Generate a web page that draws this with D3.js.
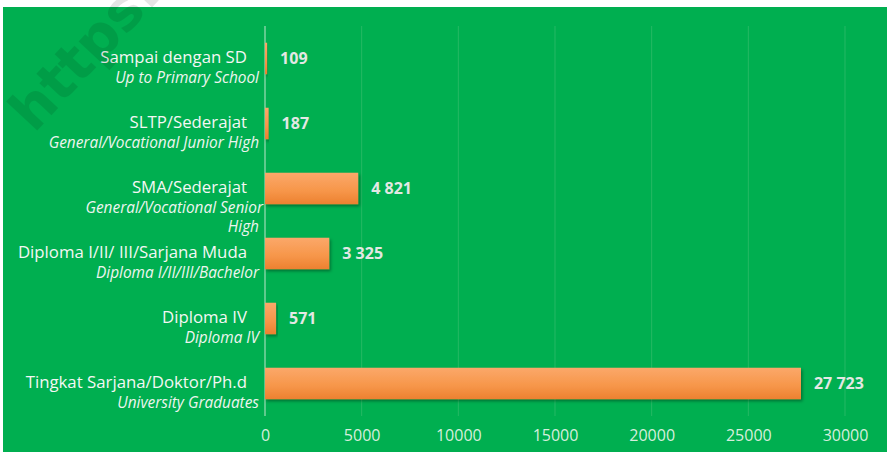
<!DOCTYPE html>
<meta charset="utf-8">
<head>
  <style>
    body { margin: 0; background: #fff; }
    svg { display: block; }
  </style>
</head>

<script src="https://d3js.org/d3.v7.min.js"></script>

<div id="chart"></div>
<script>

  // education level categories (Indonesian line + English italic line)
  var mainLabels = [
    "Sampai dengan SD",
    "SLTP/Sederajat",
    "SMA/Sederajat",
    "Diploma I/II/ III/Sarjana Muda",
    "Diploma IV",
    "Tingkat Sarjana/Doktor/Ph.d"
  ];
  var subLabels = [
    ["Up to Primary School"],
    ["General/Vocational Junior High"],
    ["General/Vocational Senior", "High"],
    ["Diploma I/II/III/Bachelor"],
    ["Diploma IV"],
    ["University Graduates"]
  ];
  var values = [109, 187, 4821, 3325, 571, 27723];
  var xTicks = [0, 5000, 10000, 15000, 20000, 25000, 30000];

  var width = 887, height = 452;
  var margin = {top: 26, right: 42, bottom: 36, left: 265};

  var rows = mainLabels.map(function(d, i) {
    return {name: d, sub: subLabels[i], value: values[i]};
  });

  var fmt = d3.formatLocale({decimal: ",", thousands: " ", grouping: [3], currency: ["", ""]}).format(",d");

  var svg = d3.select("#chart")
    .append("svg")
      .attr("width", width)
      .attr("height", height);

  var defs = svg.append("defs");
  var grad = defs.append("linearGradient")
      .attr("id", "barGrad")
      .attr("x1", 0).attr("y1", 0).attr("x2", 0).attr("y2", 1);
  grad.append("stop").attr("offset", "0%").attr("stop-color", "#fba86a");
  grad.append("stop").attr("offset", "55%").attr("stop-color", "#f7974b");
  grad.append("stop").attr("offset", "100%").attr("stop-color", "#ec8130");

  var shadow = defs.append("filter").attr("id", "shadow")
      .attr("x", "-5%").attr("y", "-20%").attr("width", "115%").attr("height", "160%");
  shadow.append("feDropShadow")
      .attr("dx", 1.5).attr("dy", 2).attr("stdDeviation", 1.5)
      .attr("flood-color", "#000").attr("flood-opacity", 0.35);

  // green panel
  svg.append("rect")
      .attr("x", 3).attr("y", 7)
      .attr("width", width - 3).attr("height", height - 7)
      .attr("fill", "#00af50");

  var x = d3.scaleLinear()
      .domain([0, 30000])
      .range([margin.left, width - margin.right]);

  var y = d3.scaleBand()
      .domain(mainLabels)
      .range([margin.top, height - margin.bottom])
      .paddingInner(0.515)
      .paddingOuter(0.2575);

  // gridlines
  svg.append("g")
    .selectAll("line")
    .data(xTicks)
    .join("line")
      .attr("x1", d => x(d)).attr("x2", d => x(d))
      .attr("y1", margin.top).attr("y2", height - margin.bottom)
      .attr("stroke", d => d === 0 ? "#7fd3a2" : "#25b864")
      .attr("stroke-width", d => d === 0 ? 1.5 : 1);

  // x axis labels
  var xAxis = d3.axisBottom(x).tickValues(xTicks).tickSize(0).tickPadding(0).tickFormat(d3.format("d"));
  var gx = svg.append("g")
      .attr("transform", "translate(0," + (height - margin.bottom + 19) + ")")
      .call(xAxis);
  gx.select(".domain").remove();
  gx.selectAll("text")
      .attr("fill", "#d6eedd")
      .attr("font-family", "Open Sans, sans-serif")
      .attr("font-size", 16)
      .attr("dy", "0.36em");

  // bars
  svg.append("g")
    .selectAll("rect")
    .data(rows)
    .join("rect")
      .attr("x", x(0))
      .attr("y", d => y(d.name))
      .attr("width", d => x(d.value) - x(0))
      .attr("height", y.bandwidth())
      .attr("fill", "url(#barGrad)")
      .attr("filter", "url(#shadow)");

  // value labels
  svg.append("g")
    .selectAll("text")
    .data(rows)
    .join("text")
      .attr("x", d => x(d.value) + 13)
      .attr("y", d => y(d.name) + y.bandwidth() / 2)
      .attr("dy", "0.36em")
      .attr("fill", "#e3e8e4")
      .attr("font-family", "Open Sans, sans-serif")
      .attr("font-weight", "bold")
      .attr("font-size", 16)
      .text(d => fmt(d.value));

  // category labels
  var cat = svg.append("g")
    .selectAll("g")
    .data(rows)
    .join("g")
      .attr("transform", d => "translate(0," + (y(d.name) + y.bandwidth() / 2) + ")");

  cat.append("text")
      .attr("x", 247)
      .attr("y", -1.5)
      .attr("dy", "0.36em")
      .attr("text-anchor", "end")
      .attr("fill", "#f4f7f4")
      .attr("font-family", "Open Sans, sans-serif")
      .attr("font-size", 16.8)
      .text(d => d.name);

  cat.each(function(d) {
    var g = d3.select(this);
    d.sub.forEach(function(line, j) {
      g.append("text")
          .attr("x", j === 0 && d.sub.length > 1 ? 263 : 259)
          .attr("y", 18.5 + j * 19)
          .attr("dy", "0.36em")
          .attr("text-anchor", "end")
          .attr("fill", "#eef5ef")
          .attr("font-family", "Open Sans, sans-serif")
          .attr("font-style", "italic")
          .attr("font-size", 15.4)
          .text(line);
    });
  });

  // watermark
  svg.append("text")
      .attr("transform", "translate(34,134) rotate(-47)")
      .attr("fill", "#000")
      .attr("fill-opacity", 0.1)
      .attr("font-family", "DejaVu Sans, sans-serif")
      .attr("font-weight", "bold")
      .attr("font-size", 56)
      .text("https://");

</script>
